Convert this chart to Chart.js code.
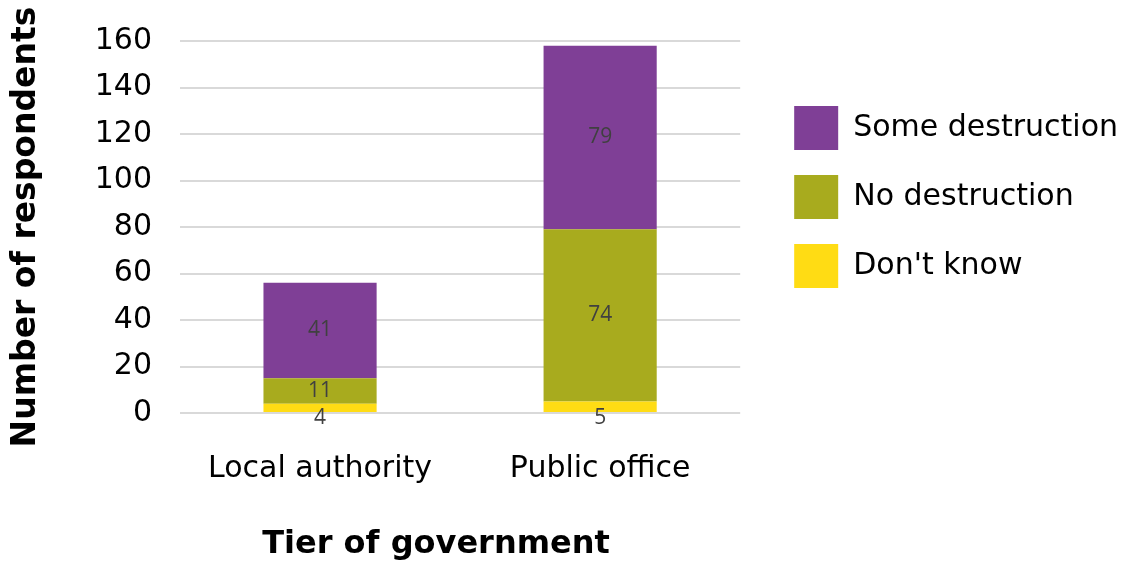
<!DOCTYPE html>
<html>
<head>
<meta charset="utf-8">
<script src="https://cdn.jsdelivr.net/npm/chart.js@4"></script>
<style>
  html, body { margin: 0; padding: 0; background: #fff; }
  #wrap { width: 1128px; height: 568px; }
</style>
</head>
<body>
<div id="wrap"><canvas id="tierChart" width="1128" height="568"></canvas></div>
<script>
const tiers = ['Local authority', 'Public office'];
const dontKnow = [4, 5];
const noDestruction = [11, 74];
const someDestruction = [41, 79];
const yTicks = [0, 20, 40, 60, 80, 100, 120, 140, 160];

const FONT = "'DejaVu Sans', sans-serif";
const LABEL_FONT = "'Open Sans', sans-serif";

// writes each segment's count in its middle; the bottom series sits just under the baseline
const segmentLabels = {
    id: 'segmentLabels',
    afterDatasetsDraw(chart) {
        const c = chart.ctx;
        c.save();
        c.font = '21px ' + LABEL_FONT;
        c.fillStyle = '#404040';
        c.textAlign = 'center';
        c.textBaseline = 'middle';
        chart.data.datasets.forEach((ds, i) => {
            chart.getDatasetMeta(i).data.forEach((bar, j) => {
                const p = bar.getProps(['x', 'y', 'base'], true);
                const y = i === 0 ? p.base + 6 : (p.y + p.base) / 2;
                c.fillText(ds.data[j], p.x, y);
            });
        });
        c.restore();
    }
};

// x-axis title, drawn under the category labels
const xTitle = {
    id: 'xTitle',
    afterDraw(chart) {
        const c = chart.ctx;
        c.save();
        c.font = 'bold 32px ' + FONT;
        c.fillStyle = '#000';
        c.textAlign = 'center';
        c.textBaseline = 'middle';
        c.fillText('Tier of government', 436, 545);
        c.restore();
    }
};

document.addEventListener('DOMContentLoaded', function () {
    const ctx = document.getElementById('tierChart').getContext('2d');
    new Chart(ctx, {
        type: 'bar',
        data: {
            labels: tiers,
            datasets: [
                { label: "Don't know", data: dontKnow, backgroundColor: '#FFDC14' },
                { label: 'No destruction', data: noDestruction, backgroundColor: '#A8AB1E' },
                { label: 'Some destruction', data: someDestruction, backgroundColor: '#7F3F96' }
            ]
        },
        options: {
            responsive: false,
            animation: false,
            layout: { padding: { top: 12, bottom: 0, left: 0, right: 0 } },
            datasets: {
                bar: { categoryPercentage: 1, barPercentage: 0.404 }
            },
            scales: {
                x: {
                    stacked: true,
                    grid: { display: false },
                    border: { display: false },
                    ticks: { color: '#000', font: { family: FONT, size: 30 }, padding: 30 },
                    afterFit(axis) { axis.height = 155; }
                },
                y: {
                    stacked: true,
                    min: 0,
                    max: 160,
                    afterBuildTicks(axis) { axis.ticks = yTicks.map(v => ({ value: v })); },
                    grid: { color: '#D9D9D9', lineWidth: 2, drawTicks: false },
                    border: { display: false },
                    ticks: { color: '#000', font: { family: FONT, size: 30 }, padding: 28 },
                    title: {
                        display: true,
                        text: 'Number of respondents',
                        color: '#000',
                        font: { family: FONT, size: 33, weight: 'bold' },
                        padding: { top: 7, bottom: 10 }
                    },
                    afterFit(axis) {
                        axis.width = 180;
                        axis.paddingTop = 41;
                        axis.paddingBottom = 0;
                    }
                },
                // empty strip keeping the legend clear of the plot
                gap: {
                    position: 'right',
                    display: true,
                    grid: { display: false },
                    border: { display: false },
                    ticks: { display: false },
                    afterFit(axis) { axis.width = 29; }
                }
            },
            plugins: {
                legend: {
                    position: 'right',
                    align: 'start',
                    reverse: true,
                    maxWidth: 420,
                    title: { display: true, text: ' ', font: { size: 10 }, padding: { top: 0, bottom: 57 } },
                    labels: {
                        boxWidth: 44,
                        boxHeight: 44,
                        padding: 25,
                        color: '#000',
                        font: { family: FONT, size: 30 }
                    }
                },
                tooltip: { enabled: false }
            }
        },
        plugins: [segmentLabels, xTitle]
    });
});
</script>
</body>
</html>
